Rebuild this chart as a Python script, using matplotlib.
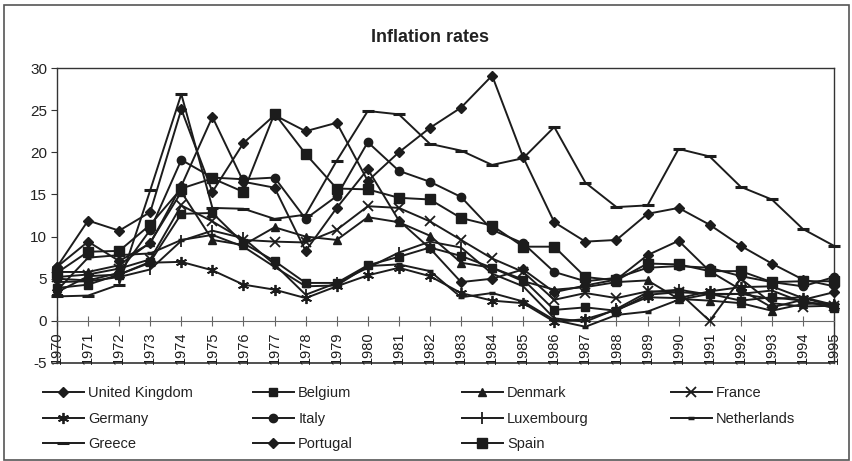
import matplotlib
matplotlib.use("Agg")
import matplotlib.pyplot as plt
from matplotlib.patches import Rectangle
import numpy as np

plt.rcParams['font.family'] = ['Liberation Sans', 'DejaVu Sans']
plt.rcParams['axes.unicode_minus'] = False

# Annual inflation rates (%), 1970-1995
years = np.arange(1970, 1996)

uk = [6.4, 9.4, 7.1, 9.2, 16.0, 24.2, 16.5, 15.8, 8.3, 13.4, 18.0, 11.9, 8.6,
      4.6, 5.0, 6.1, 3.4, 4.2, 4.9, 7.8, 9.5, 5.9, 3.7, 1.6, 2.5, 3.4]
belgium = [3.9, 4.3, 5.5, 7.0, 12.7, 12.8, 9.2, 7.1, 4.5, 4.5, 6.6, 7.6, 8.7,
           7.7, 6.3, 4.9, 1.3, 1.6, 1.2, 3.1, 3.4, 3.2, 2.4, 2.8, 2.4, 1.5]
denmark = [5.8, 5.8, 6.6, 9.3, 15.3, 9.6, 9.0, 11.1, 10.0, 9.6, 12.3, 11.7, 10.1,
           6.9, 6.3, 4.7, 3.7, 4.0, 4.6, 4.8, 2.6, 2.4, 2.1, 1.2, 2.0, 2.1]
france = [5.2, 5.5, 6.2, 7.3, 13.7, 11.8, 9.6, 9.4, 9.3, 10.8, 13.6, 13.4, 11.8,
          9.6, 7.4, 5.8, 2.5, 3.3, 2.7, 3.5, 3.4, 0.0, 5.0, 2.1, 1.7, 1.8]
germany = [3.4, 5.3, 5.5, 6.9, 7.0, 6.0, 4.3, 3.7, 2.7, 4.1, 5.4, 6.3, 5.3,
           3.3, 2.4, 2.1, -0.1, 0.2, 1.3, 2.8, 2.7, 3.5, 4.0, 4.1, 2.7, 1.8]
italy = [5.0, 4.8, 5.7, 10.8, 19.1, 17.0, 16.8, 17.0, 12.1, 14.8, 21.2, 17.8, 16.5,
         14.7, 10.8, 9.2, 5.8, 4.7, 5.1, 6.3, 6.5, 6.3, 5.3, 4.6, 4.1, 5.2]
luxembourg = [4.6, 4.7, 5.2, 6.1, 9.5, 10.7, 9.8, 6.7, 3.1, 4.5, 6.3, 8.1, 9.4,
              8.7, 5.6, 4.1, 0.3, -0.1, 1.4, 3.4, 3.7, 3.1, 3.2, 3.6, 2.2, 1.9]
netherlands = [3.6, 7.5, 7.8, 8.0, 9.6, 10.2, 8.8, 6.4, 4.1, 4.2, 6.5, 6.7, 5.9,
               2.8, 3.3, 2.3, 0.1, -0.7, 0.7, 1.1, 2.5, 3.2, 3.2, 2.6, 2.8, 1.9]
greece = [2.9, 3.0, 4.3, 15.5, 26.9, 13.4, 13.3, 12.1, 12.6, 19.0, 24.9, 24.5, 21.0,
          20.2, 18.5, 19.3, 23.0, 16.4, 13.5, 13.7, 20.4, 19.5, 15.9, 14.4, 10.9, 8.9]
portugal = [6.4, 11.9, 10.7, 12.9, 25.1, 15.3, 21.1, 24.4, 22.5, 23.5, 16.6, 20.0, 22.9,
            25.3, 29.1, 19.4, 11.7, 9.4, 9.6, 12.7, 13.4, 11.4, 8.9, 6.8, 4.9, 4.1]
spain = [5.7, 8.2, 8.3, 11.4, 15.7, 16.9, 15.3, 24.6, 19.8, 15.7, 15.6, 14.6, 14.4,
         12.2, 11.3, 8.8, 8.8, 5.2, 4.8, 6.8, 6.7, 5.9, 5.9, 4.6, 4.7, 4.7]

series = [
    ('United Kingdom', uk, dict(marker='D', ms=5)),
    ('Belgium', belgium, dict(marker='s', ms=6)),
    ('Denmark', denmark, dict(marker='^', ms=6)),
    ('France', france, dict(marker='x', ms=7, mew=1.3)),
    ('Germany', germany, dict(marker=(6, 2, 0), ms=8, mew=1.3)),
    ('Italy', italy, dict(marker='o', ms=6)),
    ('Luxembourg', luxembourg, dict(marker='|', ms=8, mew=1.3)),
    ('Netherlands', netherlands, dict(marker='_', ms=4, mew=2.5)),
    ('Greece', greece, dict(marker='_', ms=8, mew=2.2)),
    ('Portugal', portugal, dict(marker='D', ms=5)),
    ('Spain', spain, dict(marker='s', ms=7)),
]

ink = '#1c1c1c'
W, H = 853, 461
fig = plt.figure(figsize=(W / 100, H / 100), dpi=100)
ax = fig.add_axes([57 / W, 1 - 363 / H, (834 - 57) / W, (363 - 68) / H])

handles = {}
for name, vals, style in series:
    line, = ax.plot(years, vals, color=ink, lw=1.4, mfc=ink, mec=ink,
                    clip_on=False, zorder=3, label=name, **style)
    handles[name] = line

ax.set_xlim(1970, 1995)
ax.set_ylim(-5, 30)

# category axis crosses at zero, plot frame stays at -5
ax.spines['bottom'].set_position(('data', 0))
ax.spines['bottom'].set_color('#666666')
ax.spines['bottom'].set_linewidth(0.8)
ax.axhline(-5, color='#333333', lw=1.2, clip_on=False, zorder=1)
for s in ['left', 'top', 'right']:
    ax.spines[s].set_color('#333333')
    ax.spines[s].set_linewidth(1.0)

ax.set_xticks(years)
ax.set_xticklabels([str(y) for y in years], rotation=90, fontsize=10.5, color=ink)
ax.tick_params(axis='x', direction='inout', length=7, width=0.8, color='#666666', pad=4)
ax.set_yticks(np.arange(-5, 31, 5))
ax.tick_params(axis='y', direction='out', length=4, width=0.8, color='#333333',
               labelsize=11, labelcolor='#222222', pad=3)

fig.text(0.504, 1 - 37 / H, 'Inflation rates', ha='center', va='center',
         fontsize=13, fontweight='bold', color='#222222')

# legend laid out in four columns like the original
columns = [
    (43, ['United Kingdom', 'Germany', 'Greece']),
    (253, ['Belgium', 'Italy', 'Portugal']),
    (462, ['Denmark', 'Luxembourg', 'Spain']),
    (671, ['France', 'Netherlands']),
]
for x0, names in columns:
    leg = fig.legend([handles[n] for n in names], names, loc='upper left',
                     bbox_to_anchor=(x0 / W, 1 - 386 / H), frameon=False,
                     fontsize=10.5, handlelength=2.8, handletextpad=0.3,
                     labelspacing=0.8, borderpad=0, borderaxespad=0)
    for t in leg.get_texts():
        t.set_color('#222222')

fig.patches.append(Rectangle((4 / W, 1.5 / H), (849 - 4) / W, (456 - 1.5) / H,
                             transform=fig.transFigure, fill=False,
                             edgecolor='#555555', lw=1.2))

fig.savefig('out.png', dpi=100)
